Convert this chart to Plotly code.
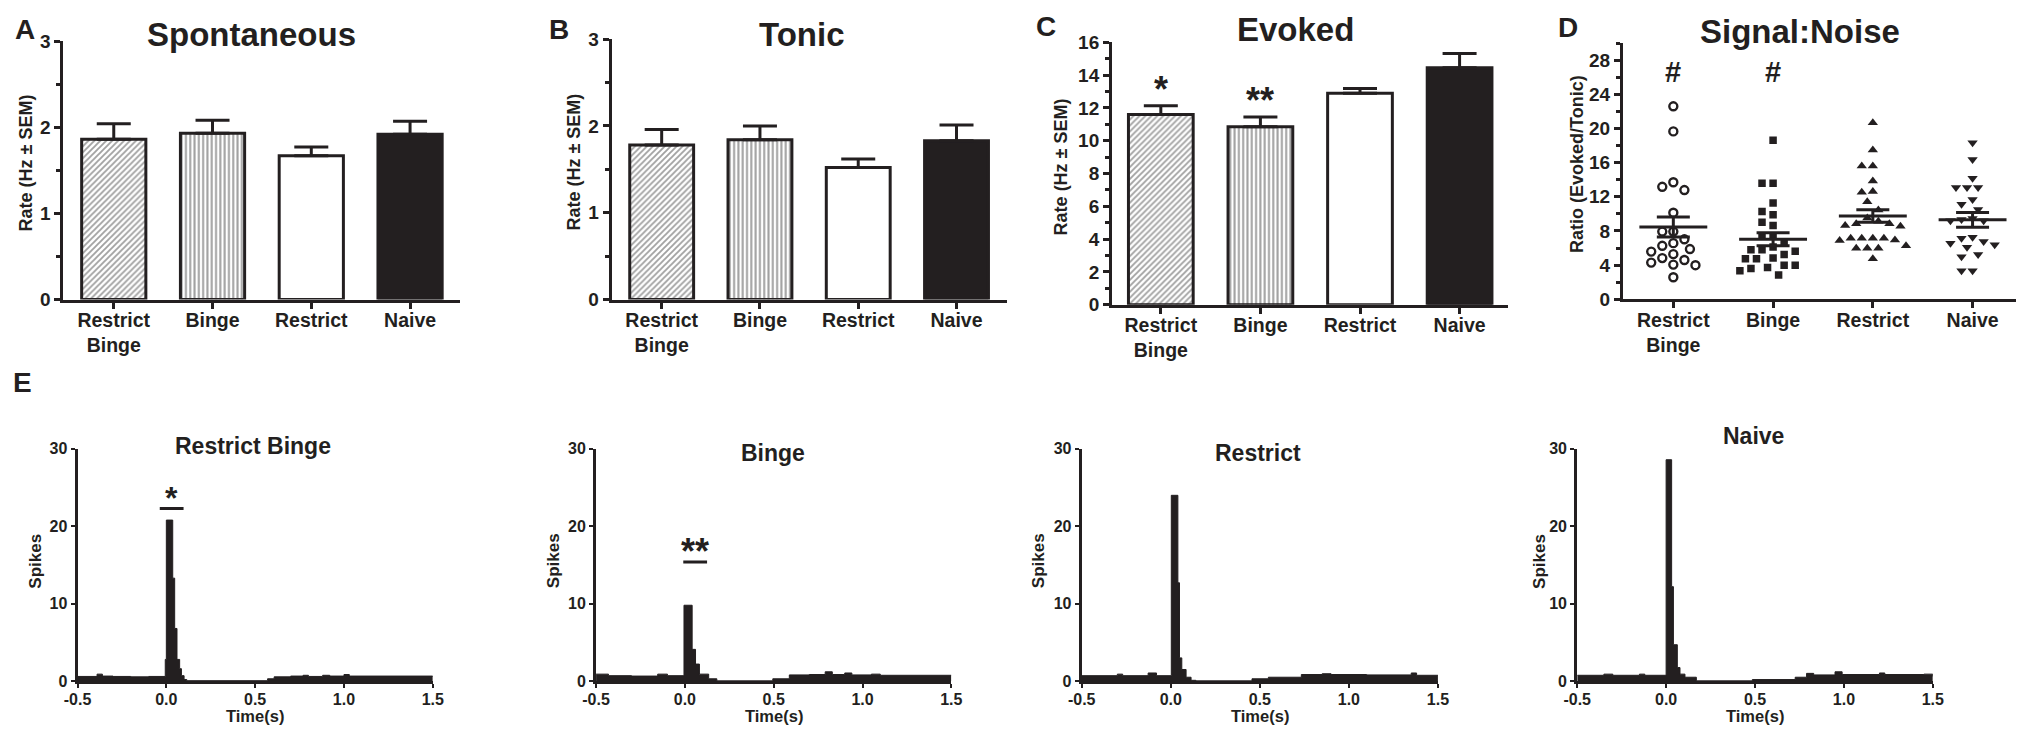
import plotly.graph_objects as go

W, H = 2032, 740
INK = "#231f20"
FAM = "Liberation Sans, Arial, sans-serif"

# ---------------- data ----------------
groups = ["Restrict Binge", "Binge", "Restrict", "Naive"]
group_ticks = ["Restrict<br>Binge", "Binge", "Restrict", "Naive"]

spont_mean = [1.86, 1.93, 1.67, 1.92]
spont_sem = [0.18, 0.15, 0.10, 0.15]
tonic_mean = [1.78, 1.84, 1.52, 1.83]
tonic_sem = [0.18, 0.16, 0.10, 0.18]
evoked_mean = [11.60, 10.85, 12.90, 14.45]
evoked_sem = [0.54, 0.60, 0.28, 0.87]
evoked_sig = ["*", "**", "", ""]

snr_rb = [22.6, 19.66, 13.7, 13.17, 12.79, 10.13, 7.93, 7.93, 7.02, 6.57, 6.26, 5.88,
          5.58, 5.28, 4.82, 4.6, 4.29, 4.06, 3.99, 2.58]
snr_binge = [18.63, 13.59, 13.59, 11.27, 10.28, 9.9, 9.03, 8.65, 7.4, 7.4, 6.57, 6.11,
             5.81, 5.81, 5.62, 5.24, 4.83, 4.75, 4.75, 3.99, 3.99, 3.72, 3.6, 3.34, 2.85]
snr_restrict = [20.68, 17.49, 15.6, 15.6, 13.85, 12.63, 12.52, 11.43, 10.44, 9.53, 9.15,
                8.84, 8.84, 8.65, 8.54, 7.14, 7.14, 7.14, 7.14, 6.95, 6.87, 6.26, 5.96,
                5.96, 5.96, 4.75]
snr_naive = [18.33, 16.36, 14.16, 13.09, 13.09, 13.09, 11.69, 11.12, 10.51, 9.45, 9.35,
             9.2, 9.2, 7.25, 7.14, 6.76, 6.57, 6.37, 6.1, 5.24, 4.97, 3.34, 3.34]
snr_mean = [8.47, 7.02, 9.75, 9.30]
snr_sem = [1.17, 0.76, 0.74, 0.87]
snr_sig = ["#", "#", "", ""]

# PSTH: step start times (s) and spike counts
psth_titles = ["Restrict Binge", "Binge", "Restrict", "Naive"]
t_rb = [-0.5, -0.39, -0.36, -0.30, -0.20, -0.10, -0.006, 0.0, 0.036, 0.047, 0.06, 0.075,
        0.085, 0.10, 0.115, 0.57, 0.607, 0.70, 0.77, 0.80, 0.88, 0.92, 1.00, 1.03, 1.5]
c_rb = [0.6, 0.9, 0.65, 0.6, 0.55, 0.6, 2.8, 20.8, 13.3, 6.8, 2.8, 1.6,
        0.7, 0.2, 0.05, 0.3, 0.55, 0.65, 0.75, 0.6, 0.75, 0.65, 0.85, 0.65, 0.6]
t_bi = [-0.5, -0.43, -0.30, -0.153, -0.098, -0.005, 0.041, 0.06, 0.082, 0.134, 0.18,
        0.495, 0.588, 0.70, 0.79, 0.83, 0.90, 0.94, 1.05, 1.10, 1.5]
c_bi = [0.9, 0.7, 0.65, 0.9, 0.7, 9.8, 4.1, 2.2, 0.9, 0.3, 0.03,
        0.3, 0.8, 0.85, 1.2, 0.85, 1.05, 0.8, 0.9, 0.75, 0.75]
t_re = [-0.5, -0.30, -0.27, -0.127, -0.08, 0.003, 0.04, 0.049, 0.062, 0.086, 0.114,
        0.141, 0.456, 0.548, 0.733, 0.85, 0.90, 1.10, 1.35, 1.38, 1.5]
c_re = [0.7, 0.9, 0.7, 1.05, 0.7, 24.0, 12.7, 3.0, 1.5, 0.5, 0.1,
        0.03, 0.3, 0.5, 0.85, 0.95, 0.85, 0.8, 1.05, 0.75, 0.75]
t_na = [-0.5, -0.35, -0.30, -0.15, -0.12, 0.0, 0.031, 0.041, 0.063, 0.078, 0.106,
        0.17, 0.485, 0.726, 0.79, 0.83, 0.95, 0.99, 1.20, 1.23, 1.45, 1.5]
c_na = [0.75, 0.9, 0.75, 0.9, 0.75, 28.6, 12.2, 4.7, 1.75, 0.9, 0.5,
        0.03, 0.2, 0.5, 1.0, 0.8, 1.2, 0.85, 1.05, 0.85, 0.9, 0.6]
psth_t = [t_rb, t_bi, t_re, t_na]
psth_c = [c_rb, c_bi, c_re, c_na]
psth_sig = ["*", "**", "", ""]
psth_sig_level = [22.3, 15.4, None, None]
psth_sig_span = [[-0.037, 0.097], [-0.009, 0.125], None, None]
e_ticks = [-0.5, 0.0, 0.5, 1.0, 1.5]
e_tick_labels = ["-0.5", "0.0", "0.5", "1.0", "1.5"]

# ---------------- helpers ----------------
def px_x(p):
    return p / W

def px_y(p):
    return 1 - p / H

def ax_name(kind, n):
    return f"{kind}axis" if n == 1 else f"{kind}axis{n}"

def ref(kind, n):
    return kind if n == 1 else f"{kind}{n}"

def bold(size):
    return dict(family=FAM, size=size, color=INK, weight="bold")

fig = go.Figure()
layout = {}
annotations = []

def add_text(text, x, y, size, angle=0, xref="paper", yref="paper", yshift=0):
    annotations.append(dict(text=text, x=x, y=y, xref=xref, yref=yref, showarrow=False,
                            font=bold(size), textangle=angle, xanchor="center",
                            yanchor="middle", yshift=yshift))

# ---------------- bar panels A-C ----------------
bar_panels = [
    (1, spont_mean, spont_sem, (50, 452), (32, 298), [0, 3], 1, 0.5, [-0.51, 3.51]),
    (2, tonic_mean, tonic_sem, (605, 1005), (30, 298), [0, 3], 1, 0.5, [-0.51, 3.51]),
    (3, evoked_mean, evoked_sem, (1111.7, 1513), (33.3, 303.3), [0, 16], 2, 1, [-0.49, 3.49]),
]
bar_colors = ["white", "white", "white", INK]
bar_shapes = ["/", "|", "", ""]
bar_psize = [4.2, 4.3, 6, 6]
bar_solid = [0.44, 0.48, 0.2, 0.2]

for n, mean, sem, xd, yd, yr, dt, mdt, xr in bar_panels:
    fig.add_trace(go.Bar(
        x=list(range(len(groups))), y=mean, width=0.65,
        marker=dict(color=bar_colors, line=dict(color=INK, width=3),
                    pattern=dict(shape=bar_shapes, fgcolor=INK, size=bar_psize,
                                 solidity=bar_solid, fillmode="overlay")),
        error_y=dict(type="data", array=sem, arrayminus=[0] * len(sem), symmetric=False,
                     color=INK, thickness=3, width=17),
        xaxis=ref("x", n), yaxis=ref("y", n), showlegend=False, hoverinfo="skip"))
    layout[ax_name("x", n)] = dict(
        domain=[px_x(xd[0]), px_x(xd[1])], range=xr, anchor=ref("y", n),
        tickvals=list(range(len(groups))), ticktext=group_ticks, ticks="outside",
        ticklen=6, tickwidth=2.5, tickcolor=INK, ticklabelstandoff=-5,
        showline=True, linewidth=3,
        linecolor=INK, showgrid=False, zeroline=False, tickfont=bold(19.5))
    layout[ax_name("y", n)] = dict(
        domain=[px_y(yd[1]), px_y(yd[0])], range=yr, anchor=ref("x", n), dtick=dt,
        ticks="outside", ticklen=6, tickwidth=2.5, tickcolor=INK,
        minor=dict(dtick=mdt, ticks="outside", ticklen=4, tickwidth=2.5, tickcolor=INK),
        showline=True, linewidth=3, linecolor=INK, showgrid=False, zeroline=False,
        tickfont=bold(19))

for i, s in enumerate(evoked_sig):
    if s:
        add_text(s, i, evoked_mean[i] + evoked_sem[i] + 1.0, 36, xref="x3", yref="y3")

# ---------------- panel D (scatter dot plot) ----------------
D_X = (1629, 2027)
D_Y = (34.1, 297.7)
D_XR = [-0.505, 3.436]
D_YR = [0, 30]
x_px_per_unit = (D_X[1] - D_X[0]) / (D_XR[1] - D_XR[0])
y_px_per_unit = (D_Y[1] - D_Y[0]) / (D_YR[1] - D_YR[0])

def swarm(values, step=5.6, diam=10.6):
    placed = []
    offs = []
    for v in values:
        k = 0
        while True:
            cand = [0] if k == 0 else [-k * step, k * step]
            ok_dx = None
            for dx in cand:
                if all((dx - pdx) ** 2 + ((v - pv) * y_px_per_unit) ** 2 >= diam ** 2
                       for pdx, pv in placed):
                    ok_dx = dx
                    break
            if ok_dx is not None:
                placed.append((ok_dx, v))
                offs.append(ok_dx / x_px_per_unit)
                break
            k += 1
    return offs

snr_sets = [snr_rb, snr_binge, snr_restrict, snr_naive]
snr_symbols = ["circle-open", "square", "triangle-up", "triangle-down"]
snr_sizes = [8, 7.5, 9, 9]
for i, vals in enumerate(snr_sets):
    offs = swarm(vals)
    fig.add_trace(go.Scatter(
        x=[i + o for o in offs], y=vals, mode="markers",
        marker=dict(symbol=snr_symbols[i], size=snr_sizes[i], color=INK,
                    line=dict(color=INK, width=2.4 if i == 0 else 0)),
        xaxis="x4", yaxis="y4", showlegend=False, hoverinfo="skip"))

fig.add_trace(go.Scatter(
    x=list(range(4)), y=snr_mean, mode="markers",
    marker=dict(symbol="line-ew", size=48.5, color=INK, line=dict(color=INK, width=3)),
    error_y=dict(type="data", array=snr_sem, color=INK, thickness=3, width=16.5),
    xaxis="x4", yaxis="y4", showlegend=False, hoverinfo="skip"))

layout["xaxis4"] = dict(
    domain=[px_x(D_X[0]), px_x(D_X[1])], range=D_XR, anchor="y4",
    tickvals=list(range(4)), ticktext=group_ticks, ticks="outside", ticklen=6,
    tickwidth=2.5, tickcolor=INK, ticklabelstandoff=-5, showline=True, linewidth=3,
    linecolor=INK, showgrid=False, zeroline=False, tickfont=bold(19.5))
layout["yaxis4"] = dict(
    domain=[px_y(D_Y[1]), px_y(D_Y[0])], range=D_YR, anchor="x4", tickvals=list(range(0, 29, 4)),
    ticks="outside", ticklen=6, tickwidth=2.5, tickcolor=INK,
    minor=dict(tickvals=list(range(2, 31, 4)), ticks="outside", ticklen=4, tickwidth=2.5, tickcolor=INK),
    showline=True, linewidth=3, linecolor=INK, showgrid=False, zeroline=False,
    tickfont=bold(19))
for i, s in enumerate(snr_sig):
    if s:
        add_text(s, i, 26.6, 29, xref="x4", yref="y4")

# ---------------- panel E (PSTHs) ----------------
E_X = [(64.3, 424), (589.3, 949), (1081, 1441.7), (1582.7, 1942.7)]
E_Y = (451.7, 690.7)
E_title_pos = [(242, 449), (768, 456), (1260, 456), (1761, 438)]
E_spikes_x = [22, 547, 1038, 1545]
for j in range(4):
    n = 5 + j
    fig.add_trace(go.Scatter(
        x=psth_t[j], y=psth_c[j], mode="lines", line=dict(shape="hv", color=INK, width=1),
        fill="tozeroy", fillcolor=INK, xaxis=ref("x", n), yaxis=ref("y", n),
        showlegend=False, hoverinfo="skip"))
    if psth_sig[j]:
        fig.add_trace(go.Scatter(
            x=psth_sig_span[j], y=[psth_sig_level[j]] * 2, mode="lines",
            line=dict(color=INK, width=3), xaxis=ref("x", n), yaxis=ref("y", n),
            showlegend=False, hoverinfo="skip"))
        mid = sum(psth_sig_span[j]) / 2
        add_text(psth_sig[j], mid, psth_sig_level[j] + 2.3, 32 if j == 0 else 36,
                 xref=ref("x", n), yref=ref("y", n), yshift=-7)
    xd = E_X[j]
    layout[ax_name("x", n)] = dict(
        domain=[px_x(xd[0]), px_x(xd[1])], range=[-0.5, 1.5], anchor=ref("y", n),
        tickvals=e_ticks, ticktext=e_tick_labels, ticks="outside", ticklen=4,
        tickwidth=2, tickcolor=INK, ticklabelstandoff=-2, showline=True, linewidth=3,
        linecolor=INK, showgrid=False, zeroline=False, tickfont=bold(16))
    layout[ax_name("y", n)] = dict(
        domain=[px_y(E_Y[1]), px_y(E_Y[0])], range=[0, 30], anchor=ref("x", n),
        dtick=10, ticks="outside", ticklen=4, tickwidth=2, tickcolor=INK,
        showline=True, linewidth=3, linecolor=INK, showgrid=False, zeroline=False,
        tickfont=bold(16))
    tx, ty = E_title_pos[j]
    add_text(psth_titles[j], px_x(tx), px_y(ty), 23)
    add_text("Spikes", px_x(E_spikes_x[j]), px_y(567), 17, angle=-90)
    add_text("Time(s)", px_x((xd[0] + xd[1]) / 2), px_y(727), 16.5)

# ---------------- titles, letters, axis titles ----------------
for txt, x, y in [("A", 11, 20), ("B", 552, 20), ("C", 1045, 17), ("D", 1573, 18), ("E", 9, 383)]:
    add_text(txt, px_x(x), px_y(y), 28)
for txt, x, y in [("Spontaneous", 240, 25), ("Tonic", 798, 25), ("Evoked", 1297, 20),
                  ("Signal:Noise", 1808, 22)]:
    add_text(txt, px_x(x), px_y(y), 33)
for txt, x, y in [("Rate (Hz ± SEM)", 12, 157), ("Rate (Hz ± SEM)", 567, 157),
                  ("Rate (Hz ± SEM)", 1060, 161), ("Ratio (Evoked/Tonic)", 1583, 159)]:
    add_text(txt, px_x(x), px_y(y), 18, angle=-90)

fig.update_layout(
    width=W, height=H, margin=dict(l=0, r=0, t=0, b=0),
    paper_bgcolor="white", plot_bgcolor="white",
    font=dict(family=FAM, color=INK, weight="bold"),
    annotations=annotations, showlegend=False, **layout)

fig.write_html("out.html", config={"displayModeBar": False},
               post_script="document.body.style.margin='0';")
